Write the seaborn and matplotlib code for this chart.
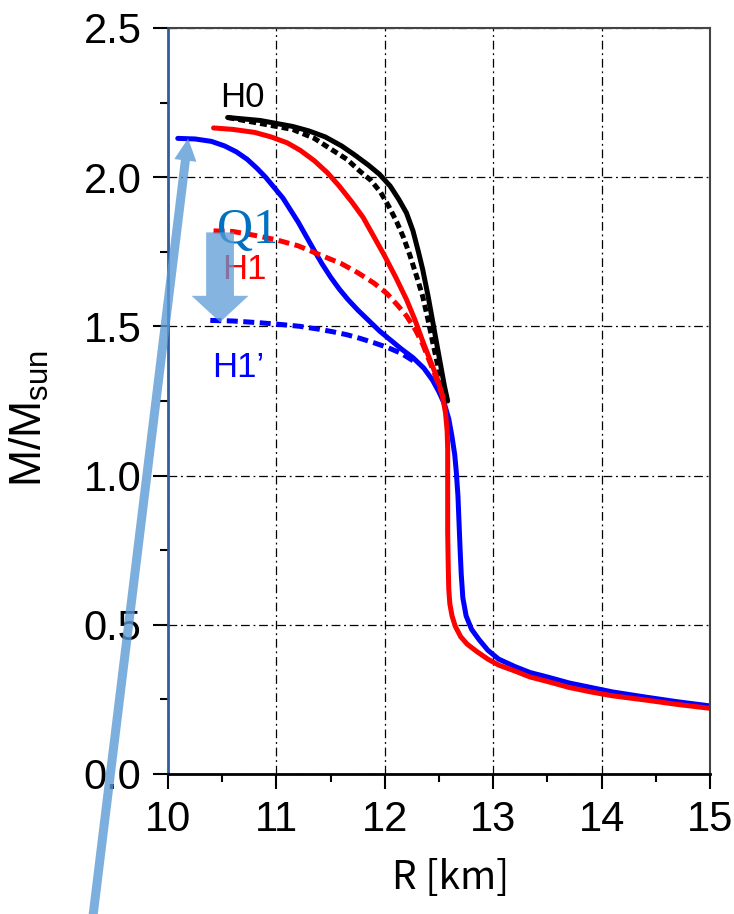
import numpy as np
import pandas as pd
import matplotlib
matplotlib.use("Agg")
import matplotlib.pyplot as plt
from matplotlib.ticker import MultipleLocator
import seaborn as sns

# mass-radius curves (R in km, M in solar masses)
h0_r = [10.55, 10.70, 10.85, 11.00, 11.15, 11.30, 11.45, 11.60, 11.72, 11.85, 11.95,
        12.05, 12.13, 12.20, 12.26, 12.31, 12.35, 12.40, 12.44, 12.48, 12.52, 12.55, 12.58]
h0_m = [2.200, 2.195, 2.19, 2.18, 2.17, 2.155, 2.135, 2.105, 2.075, 2.04, 2.01,
        1.97, 1.925, 1.88, 1.82, 1.75, 1.69, 1.60, 1.52, 1.44, 1.36, 1.30, 1.25]

h0d_r = [10.55, 10.85, 11.15, 11.35, 11.52, 11.65, 11.77, 11.87, 11.96, 12.04, 12.11,
         12.17, 12.23, 12.30, 12.35, 12.40, 12.44, 12.50, 12.57]
h0d_m = [2.20, 2.18, 2.16, 2.13, 2.09, 2.06, 2.02, 1.99, 1.95, 1.90, 1.85,
         1.80, 1.74, 1.66, 1.60, 1.52, 1.45, 1.35, 1.25]

h1_r = [10.42, 10.60, 10.80, 10.95, 11.10, 11.22, 11.35, 11.47, 11.58, 11.70, 11.80,
        11.90, 12.00, 12.10, 12.20, 12.28, 12.35, 12.42, 12.48, 12.53, 12.56, 12.575,
        12.58, 12.58, 12.585, 12.59, 12.60, 12.62, 12.65, 12.70, 12.76, 12.85, 12.95,
        13.05, 13.20, 13.34, 13.50, 13.70, 13.90, 14.10, 14.40, 14.70, 15.00]
h1_m = [2.165, 2.16, 2.15, 2.135, 2.115, 2.09, 2.055, 2.015, 1.97, 1.915, 1.865,
        1.80, 1.735, 1.665, 1.59, 1.52, 1.45, 1.385, 1.33, 1.27, 1.21, 1.15,
        1.09, 0.81, 0.70, 0.62, 0.57, 0.53, 0.495, 0.46, 0.435, 0.41, 0.385,
        0.365, 0.345, 0.325, 0.31, 0.29, 0.275, 0.262, 0.248, 0.233, 0.22]

h1d_r = [10.42, 10.60, 10.80, 11.00, 11.20, 11.40, 11.60, 11.75, 11.90, 12.02, 12.12,
         12.20, 12.28, 12.35, 12.41, 12.46, 12.51, 12.56]
h1d_m = [1.82, 1.818, 1.805, 1.79, 1.77, 1.74, 1.71, 1.68, 1.645, 1.61, 1.57,
         1.535, 1.49, 1.44, 1.385, 1.34, 1.29, 1.24]

h1p_r = [10.09, 10.25, 10.40, 10.52, 10.63, 10.73, 10.82, 10.90, 10.98, 11.06, 11.13,
         11.20, 11.27, 11.34, 11.42, 11.50, 11.58, 11.66, 11.75, 11.85, 11.95, 12.05,
         12.15, 12.26, 12.36, 12.44, 12.50, 12.55, 12.59, 12.62, 12.645, 12.66, 12.675,
         12.685, 12.695, 12.705, 12.72, 12.75, 12.80, 12.87, 12.95, 13.05, 13.20, 13.34,
         13.50, 13.70, 13.90, 14.10, 14.40, 14.70, 15.00]
h1p_m = [2.13, 2.128, 2.12, 2.105, 2.085, 2.06, 2.03, 2.00, 1.965, 1.93, 1.89,
         1.85, 1.805, 1.76, 1.71, 1.665, 1.625, 1.59, 1.555, 1.52, 1.485, 1.455,
         1.425, 1.395, 1.36, 1.32, 1.28, 1.24, 1.19, 1.13, 1.07, 1.01, 0.93,
         0.84, 0.75, 0.67, 0.59, 0.53, 0.485, 0.45, 0.415, 0.385, 0.36, 0.34,
         0.325, 0.305, 0.29, 0.275, 0.258, 0.242, 0.228]

h1pd_r = [10.39, 10.60, 10.85, 11.05, 11.22, 11.40, 11.52, 11.65, 11.77, 11.90, 12.02,
          12.15, 12.26]
h1pd_m = [1.52, 1.518, 1.512, 1.506, 1.50, 1.49, 1.482, 1.472, 1.46, 1.445, 1.43,
          1.41, 1.385]

x_ticks = [10, 11, 12, 13, 14, 15]
y_ticks = [0.0, 0.5, 1.0, 1.5, 2.0, 2.5]

sns.set_theme(style="white")
plt.rcParams.update({
    "font.family": ["Liberation Sans", "DejaVu Sans"],
    "mathtext.default": "regular",
    "axes.linewidth": 1.5,
    "text.color": "black",
    "axes.labelcolor": "black",
    "xtick.color": "black",
    "ytick.color": "black",
})

fig = plt.figure(figsize=(7.34, 9.14), dpi=100)
ax = fig.add_axes([0.2289, 0.1532, 0.7384, 0.8162])

LW = 3.6
curves = [
    (h1p_r, h1p_m, "#0000ff", "-"),
    (h1pd_r, h1pd_m, "#0000ff", (0, (2.2, 1.1))),
    (h0_r, h0_m, "black", "-"),
    (h0d_r, h0d_m, "black", (0, (1.4, 0.8))),
    (h1_r, h1_m, "#ff0000", "-"),
    (h1d_r, h1d_m, "#ff0000", (0, (2.2, 1.1))),
]
for r, m, col, ls in curves:
    df = pd.DataFrame({"R": r, "M": m})
    sns.lineplot(data=df, x="R", y="M", sort=False, estimator=None, ax=ax,
                 color=col, lw=LW, linestyle=ls)

ax.set_xlim(10, 15)
ax.set_ylim(0, 2.5)
ax.set_xticks(x_ticks)
ax.set_yticks(y_ticks)
ax.set_xticklabels([str(t) for t in x_ticks])
ax.set_yticklabels([f"{t:.1f}" for t in y_ticks])
ax.xaxis.set_minor_locator(MultipleLocator(0.5))
ax.yaxis.set_minor_locator(MultipleLocator(0.25))
ax.tick_params(which="major", direction="out", length=11, width=1.5,
               labelsize=30, pad=8, bottom=True, left=True)
ax.tick_params(which="minor", direction="out", length=6, width=1.5,
               bottom=True, left=True)

ax.grid(True, which="major", color="black", lw=0.9, linestyle=(0, (7, 3, 1.5, 3)))
ax.set_axisbelow(True)

for side in ["top", "right"]:
    ax.spines[side].set_color("#444444")
    ax.spines[side].set_linewidth(1.5)
ax.spines["bottom"].set_color("black")
ax.spines["bottom"].set_linewidth(2)
ax.spines["left"].set_color("#2f5f9f")
ax.spines["left"].set_linewidth(2)

ax.set_xlabel("R [km]", fontsize=28, family=["Noto Sans CJK JP", "DejaVu Sans"])
ax.xaxis.set_label_coords(0.522, -0.112)
ax.set_ylabel("M/M$_{sun}$", fontsize=32,
              family=["Liberation Sans Narrow", "Liberation Sans", "DejaVu Sans"])
ax.yaxis.set_label_coords(-0.215, 0.476)

# curve labels
ax.text(10.48, 2.234, "H0", color="black", fontsize=25)
ax.text(10.50, 1.66, "H1", color="#ff0000", fontsize=25)
ax.text(10.41, 1.33, "H1\u2019", color="#0000ff", fontsize=25)
ax.text(10.45, 1.78, "Q1", color="#0070c0", fontsize=36,
        family=["Liberation Serif", "DejaVu Serif"])

# annotation arrows
arrow_col = "#5b9bd5"
ax.annotate("", xy=(10.48, 1.514), xytext=(10.48, 1.815),
            arrowprops=dict(arrowstyle="simple,head_width=2.05,head_length=0.95,tail_width=1.0",
                            mutation_scale=20, color=arrow_col, alpha=0.75,
                            shrinkA=0, shrinkB=0, lw=0),
            annotation_clip=False)
ax.annotate("", xy=(10.185, 2.13), xytext=(9.30, -0.50),
            arrowprops=dict(arrowstyle="simple,head_width=1.6,head_length=1.6,tail_width=0.65",
                            mutation_scale=10, color=arrow_col, alpha=0.8,
                            shrinkA=0, shrinkB=0, lw=0),
            annotation_clip=False)

fig.savefig("out.png", dpi=100)
